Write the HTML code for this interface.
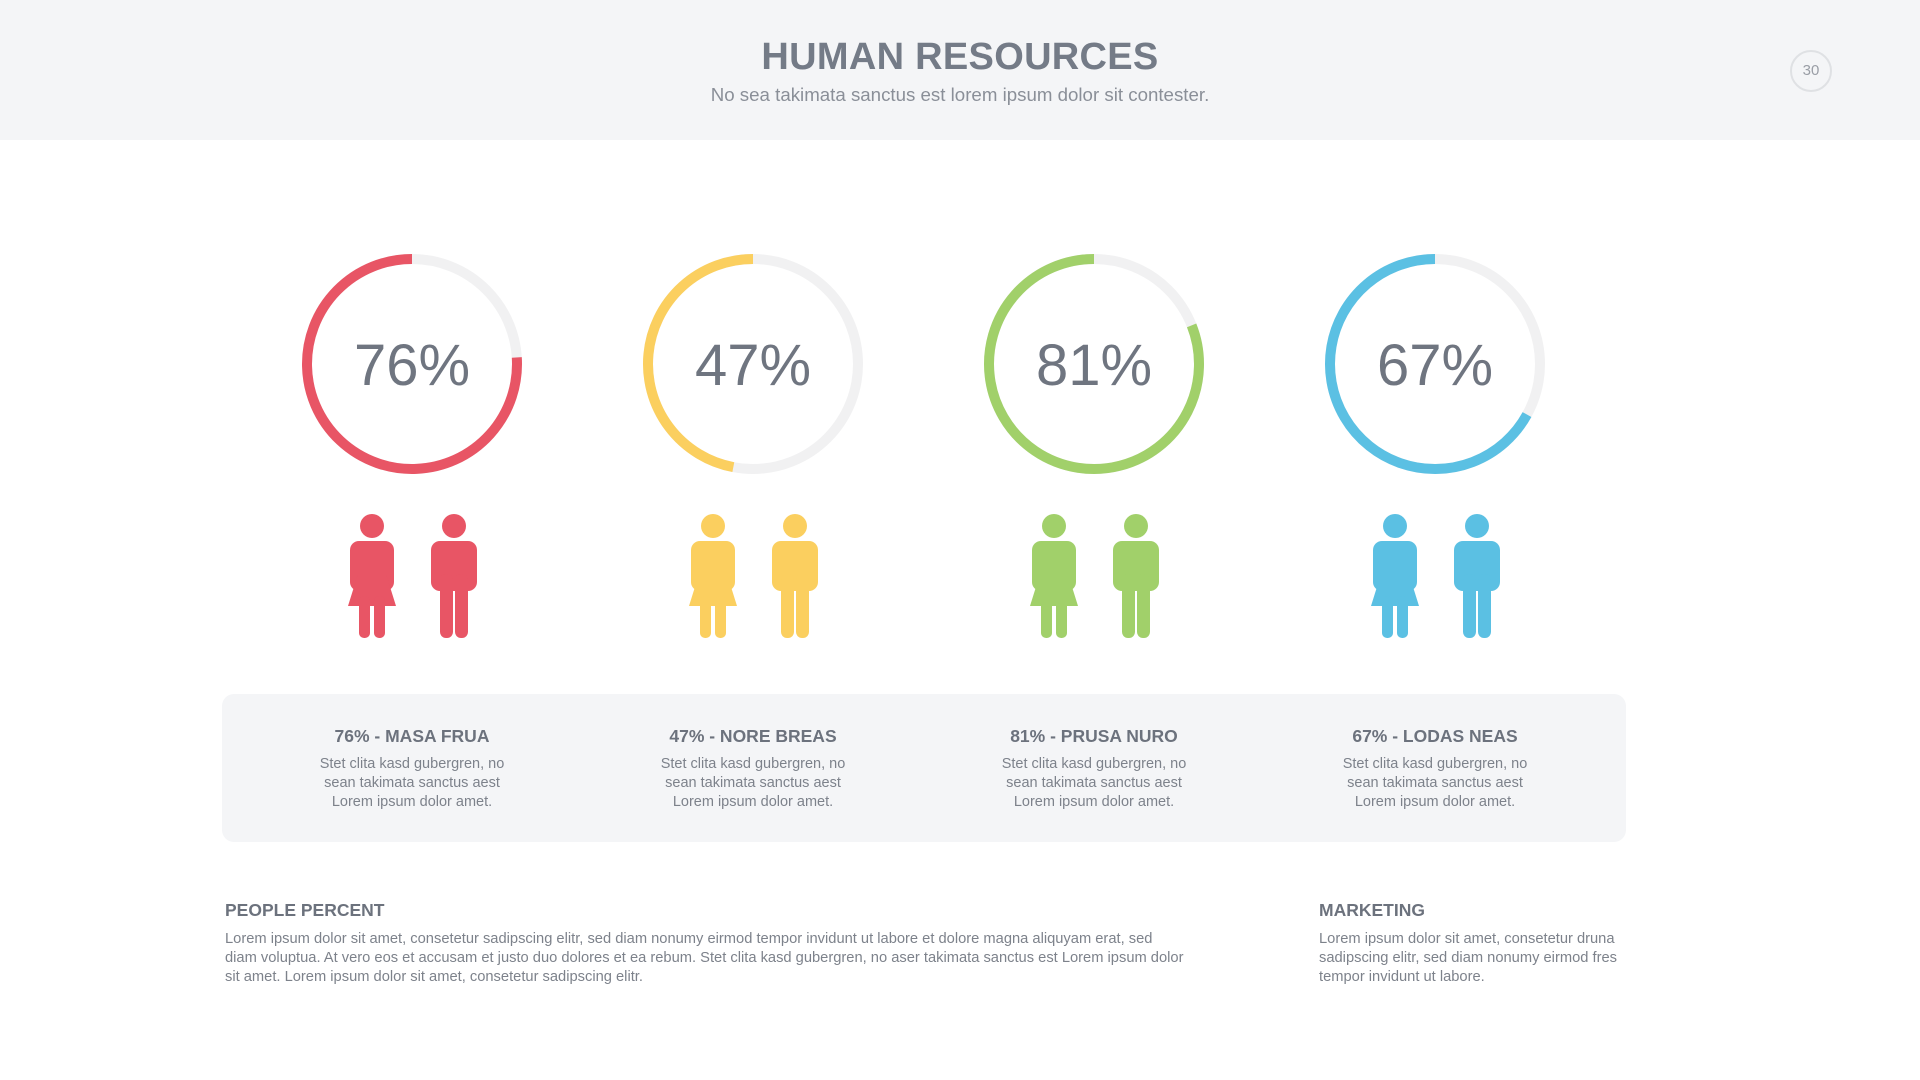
<!DOCTYPE html>
<html><head><meta charset="utf-8"><style>
body{margin:0;width:1920px;height:1080px;background:#fff;font-family:"Liberation Sans",sans-serif;position:relative;overflow:hidden}
.abs{position:absolute}
#header{left:0;top:0;width:1920px;height:140px;background:#f4f5f7}
#title{left:0;width:1920px;top:36px;text-align:center;font-size:38px;font-weight:bold;color:#747b87;letter-spacing:0.3px}
#subtitle{left:0;width:1920px;top:84px;text-align:center;font-size:18.7px;color:#8a8f98}
#pagenum{left:1790px;top:50px;width:38px;height:38px;border:2px solid #dfe1e4;border-radius:50%;text-align:center;line-height:38px;font-size:15px;color:#9a9ea6}
#infobox{left:222px;top:694px;width:1404px;height:148px;background:#f4f5f7;border-radius:12px}
.col{position:absolute;width:300px;text-align:center}
.col h4{margin:0;font-size:17.5px;color:#6c727d;font-weight:bold}
.col p{margin:8px 0 0;font-size:14.5px;line-height:19px;color:#7d828b}
.bt h4{margin:0;font-size:17.5px;color:#6c727d;font-weight:bold}
.bt p{margin:9px 0 0;font-size:14.7px;line-height:19px;color:#7d828b;white-space:nowrap}
</style></head><body>
<div class="abs" id="header"></div>
<div class="abs" id="title">HUMAN RESOURCES</div>
<div class="abs" id="subtitle">No sea takimata sanctus est lorem ipsum dolor sit contester.</div>
<div class="abs" id="pagenum">30</div>
<svg id="chart" class="abs" style="left:0;top:0" width="1920" height="700"></svg>
<div class="abs" id="infobox"></div>
<div class="abs bt" style="left:225px;top:900px;width:960px"><h4>PEOPLE PERCENT</h4><p>Lorem ipsum dolor sit amet, consetetur sadipscing elitr, sed diam nonumy eirmod tempor invidunt ut labore et dolore magna aliquyam erat, sed<br>diam voluptua. At vero eos et accusam et justo duo dolores et ea rebum. Stet clita kasd gubergren, no aser takimata sanctus est Lorem ipsum dolor<br>sit amet. Lorem ipsum dolor sit amet, consetetur sadipscing elitr.</p></div>
<div class="abs bt" style="left:1319px;top:900px;width:320px"><h4>MARKETING</h4><p>Lorem ipsum dolor sit amet, consetetur druna<br>sadipscing elitr, sed diam nonumy eirmod fres<br>tempor invidunt ut labore.</p></div>
<script>
const categories=["MASA FRUA","NORE BREAS","PRUSA NURO","LODAS NEAS"];
const values=[76,47,81,67];
const colors=["#e85565","#fbcf5f","#a1d06a","#5bc0e3"];
const NS="http://www.w3.org/2000/svg";
const svg=document.getElementById('chart');
const x0=412,dx=341,cy=364,R=105;
function xPos(i){return x0+i*dx;}
function ang(v){return -Math.PI/2 - v/100*2*Math.PI;}
function mk(t,a){const e=document.createElementNS(NS,t);for(const k in a)e.setAttribute(k,a[k]);return e;}
values.forEach((v,i)=>{
 const cx=xPos(i);
 const track=mk('circle',{cx:cx,cy:cy,r:R,fill:'none',stroke:'#f1f1f2','stroke-width':10});
 
 
 svg.appendChild(track);
 const a=ang(v);
 const ex=cx+R*Math.cos(a),ey=cy+R*Math.sin(a);
 const large=v>50?1:0;
 const arc=mk('path',{d:`M${cx} ${cy-R} A${R} ${R} 0 ${large} 0 ${ex} ${ey}`,fill:'none',stroke:colors[i],'stroke-width':10});
 
 
 svg.appendChild(arc);
 const t=mk('text',{x:cx,y:cy+21,'text-anchor':'middle','font-size':58,fill:'#6f7580','font-family':'Liberation Sans, sans-serif'});
 t.textContent=v+'%';
 
 
 svg.appendChild(t);
 const c=colors[i];
 const f=mk('g',{transform:`translate(${cx-64},514)`,fill:c});
 
 
 f.innerHTML=`<circle cx="24" cy="12" r="12"/><rect x="2" y="27" width="44" height="50" rx="9"/><polygon points="10,60 38,60 48,92 0,92"/><rect x="11" y="82" width="11" height="42" rx="5"/><rect x="26" y="82" width="11" height="42" rx="5"/>`;
 svg.appendChild(f);
 const m=mk('g',{transform:`translate(${cx+18},514)`,fill:c});
 
 
 m.innerHTML=`<circle cx="24" cy="12" r="12"/><rect x="1" y="27" width="46" height="50" rx="9"/><rect x="10" y="60" width="13" height="64" rx="6"/><rect x="25" y="60" width="13" height="64" rx="6"/>`;
 svg.appendChild(m);
 const col=document.createElement('div');
 col.className='col';
 col.style.left=(cx-150)+'px';
 col.style.top='726px';
 
 
 col.innerHTML=`<h4>${v}% - ${categories[i]}</h4><p>Stet clita kasd gubergren, no<br>sean takimata sanctus aest<br>Lorem ipsum dolor amet.</p>`;
 document.body.appendChild(col);
});
</script>
</body></html>
